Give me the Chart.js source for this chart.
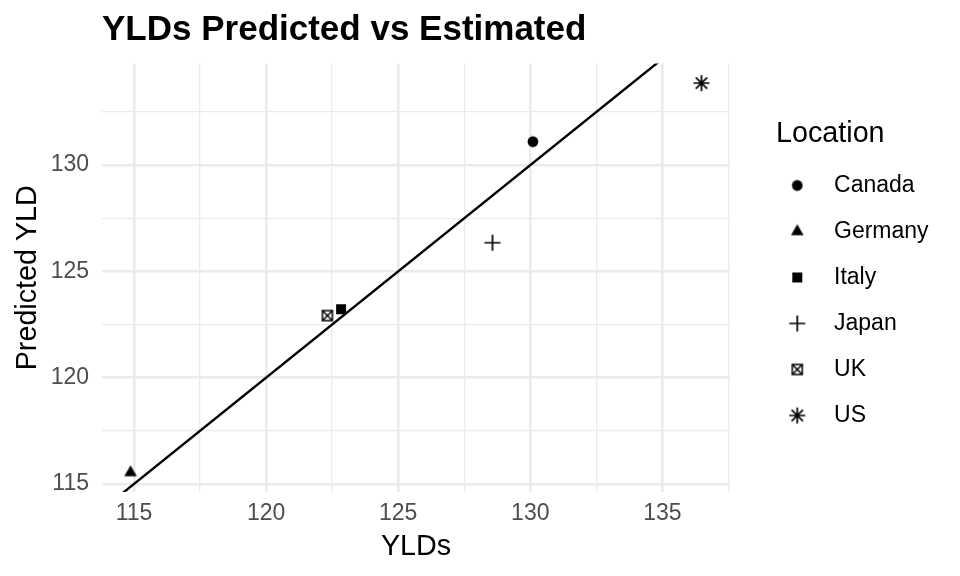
<!DOCTYPE html>
<html>
<head>
<meta charset="utf-8">
<script src="https://cdn.jsdelivr.net/npm/chart.js@4/dist/chart.umd.min.js"></script>
<style>
  html, body { margin: 0; padding: 0; background: #ffffff; }
  #wrap { width: 960px; height: 576px; }
</style>
</head>
<body>
<div id="wrap"><canvas id="c" width="960" height="576"></canvas></div>
<script>
// ---- data ----
const locations = ['Canada', 'Germany', 'Italy', 'Japan', 'UK', 'US'];
const yldsEstimated = [130.10, 114.87, 122.84, 128.57, 122.32, 136.48];
const yldsPredicted = [131.10, 115.54, 123.22, 126.35, 122.92, 133.86];
const markerShapes = ['circle', 'triangle', 'square', 'plus', 'squareCross', 'asterisk'];
// identity reference line y = x
const refLineX = [110, 140];
const refLineY = [110, 140];
const xTickLabels = ['115', '120', '125', '130', '135'];
const yTickLabels = ['115', '120', '125', '130'];

const FONT = "'Liberation Sans', Arial, Helvetica, sans-serif";

function makeMarker(shape, offsetX) {
  const half = 12;
  const w = 2 * (half + offsetX), h = 2 * half;
  const cv = document.createElement('canvas');
  cv.width = w; cv.height = h;
  const c = cv.getContext('2d');
  const cx = w / 2 + offsetX, cy = h / 2;
  c.fillStyle = '#000'; c.strokeStyle = '#000';
  c.lineCap = 'butt';
  if (shape === 'circle') {
    c.beginPath(); c.arc(cx, cy, 5.4, 0, Math.PI * 2); c.fill();
  } else if (shape === 'triangle') {
    const r = 7.3, xc = r * Math.sqrt(3) / 2, yc = r / 2;
    c.beginPath(); c.moveTo(cx, cy - r); c.lineTo(cx + xc, cy + yc); c.lineTo(cx - xc, cy + yc); c.closePath(); c.fill();
  } else if (shape === 'square') {
    c.fillRect(cx - 5, cy - 5, 10, 10);
  } else if (shape === 'plus') {
    c.lineWidth = 1.7;
    c.beginPath(); c.moveTo(cx - 8, cy); c.lineTo(cx + 8, cy); c.moveTo(cx, cy - 8); c.lineTo(cx, cy + 8); c.stroke();
  } else if (shape === 'squareCross') {
    c.lineWidth = 1.5;
    const s = 5;
    c.strokeRect(cx - s, cy - s, 2 * s, 2 * s);
    c.beginPath(); c.moveTo(cx - s, cy - s); c.lineTo(cx + s, cy + s); c.moveTo(cx - s, cy + s); c.lineTo(cx + s, cy - s); c.stroke();
  } else if (shape === 'asterisk') {
    c.lineWidth = 1.7;
    const a = 8, d = 8 / Math.SQRT2;
    c.beginPath();
    c.moveTo(cx - a, cy); c.lineTo(cx + a, cy);
    c.moveTo(cx, cy - a); c.lineTo(cx, cy + a);
    c.moveTo(cx - d, cy - d); c.lineTo(cx + d, cy + d);
    c.moveTo(cx - d, cy + d); c.lineTo(cx + d, cy - d);
    c.stroke();
  }
  return cv;
}

const pointMarkers = markerShapes.map(s => makeMarker(s, 0));
const legendMarkers = markerShapes.map(s => makeMarker(s, 9.5));

// ggplot-like 5% expansion of the data range
function expand(arr) {
  const lo = Math.min(...arr), hi = Math.max(...arr), e = (hi - lo) * 0.05;
  return [lo - e, hi + e];
}
const [xMin, xMax] = expand(yldsEstimated);
const [yMin, yMax] = expand(yldsPredicted);

const datasets = [{
  label: 'identity',
  data: refLineX.map((x, i) => ({ x: x, y: refLineY[i] })),
  showLine: true,
  borderColor: '#000000',
  borderWidth: 2.4,
  pointRadius: 0,
  pointHoverRadius: 0,
  fill: false,
  clip: 0
}].concat(locations.map((name, i) => ({
  label: name,
  data: [{ x: yldsEstimated[i], y: yldsPredicted[i] }],
  pointStyle: pointMarkers[i],
  pointRadius: 8,
  backgroundColor: '#000000',
  borderColor: '#000000'
})));

const gridWidth = (ctx) => (ctx.tick && Math.abs(ctx.tick.value % 5) < 1e-6) ? 2.6 : 1.3;

new Chart(document.getElementById('c'), {
  type: 'scatter',
  data: { datasets: datasets },
  options: {
    responsive: false,
    animation: false,
    events: [],
    layout: { padding: { top: 0, right: 21.4, bottom: 10, left: 0 } },
    plugins: {
      tooltip: { enabled: false },
      title: {
        display: true,
        text: 'YLDs Predicted vs Estimated',
        align: 'start',
        fullSize: false,
        color: '#000000',
        font: { family: FONT, size: 35, weight: 'bold', lineHeight: 1.2 },
        padding: { top: 9.3, bottom: 12.3 }
      },
      legend: {
        display: true,
        position: 'right',
        align: 'center',
        title: {
          display: true,
          text: 'Location ',
          color: '#000000',
          font: { family: FONT, size: 28.7, lineHeight: 1.0 },
          padding: { top: 4, bottom: 2.3 }
        },
        labels: {
          usePointStyle: true,
          pointStyleWidth: 69.5,
          padding: 23,
          color: '#000000',
          font: { family: FONT, size: 23 },
          generateLabels: () => locations.map((name, i) => ({
            text: name,
            pointStyle: legendMarkers[i],
            fillStyle: '#000000',
            strokeStyle: '#000000',
            fontColor: '#000000',
            lineWidth: 0,
            hidden: false,
            datasetIndex: i + 1
          }))
        }
      }
    },
    scales: {
      x: {
        type: 'linear',
        min: xMin,
        max: xMax,
        border: { display: false },
        grid: { color: '#EBEBEB', lineWidth: gridWidth, drawTicks: false },
        ticks: {
          stepSize: 2.5,
          includeBounds: false,
          autoSkip: false,
          maxRotation: 0,
          padding: 8.2,
          color: '#4D4D4D',
          font: { family: FONT, size: 23 },
          callback: (v) => { const s = String(v); return xTickLabels.includes(s) ? s : ''; }
        },
        title: {
          display: true,
          text: 'YLDs',
          color: '#000000',
          font: { family: FONT, size: 28.7, lineHeight: 1.2 },
          padding: { top: -6.2, bottom: 1.8 }
        }
      },
      y: {
        type: 'linear',
        min: yMin,
        max: yMax,
        border: { display: false },
        grid: { color: '#EBEBEB', lineWidth: gridWidth, drawTicks: false },
        ticks: {
          stepSize: 2.5,
          includeBounds: false,
          autoSkip: false,
          padding: 13,
          color: '#4D4D4D',
          font: { family: FONT, size: 23 },
          callback: (v) => { const s = String(v); return yTickLabels.includes(s) ? s : ''; }
        },
        title: {
          display: true,
          text: 'Predicted YLD',
          color: '#000000',
          font: { family: FONT, size: 28.7, lineHeight: 1.2 },
          padding: { top: 11, bottom: -7.8 }
        }
      }
    }
  }
});
</script>
</body>
</html>
